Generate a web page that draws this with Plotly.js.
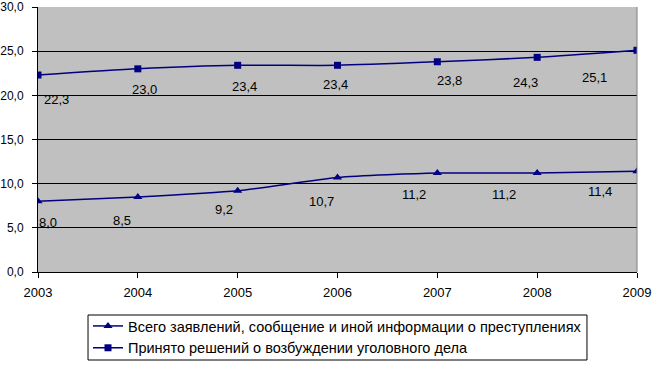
<!DOCTYPE html>
<html>
<head>
<meta charset="utf-8">
<script src="https://cdn.plot.ly/plotly-3.0.1.min.js"></script>
<style>html,body{margin:0;padding:0;background:#fff;}#chart{width:654px;height:366px;}</style>
</head>
<body>
<div id="chart"></div>
<script>
const years = ['2003','2004','2005','2006','2007','2008','2009'];
const seriesNames = [
  'Всего заявлений, сообщение и иной информации о преступлениях',
  'Принято решений о возбуждении уголовного дела'
];
const reports = [8.0, 8.5, 9.2, 10.7, 11.2, 11.2, 11.4];
const cases = [22.3, 23.0, 23.4, 23.4, 23.8, 24.3, 25.1];
const yTicks = [0, 5, 10, 15, 20, 25, 30];

// label offsets in pixels (style only)
const reportsLabelShift = [[10,-21],[-16,-24],[-14,-19],[-16,-24],[-23,-21],[-33,-21],[-37,-20]];
const casesLabelShift = [[18,-24],[7,-21],[7,-21],[-2,-19],[12,-19],[-12,-25],[-43,-27]];

const fmt = v => v.toFixed(1).replace('.', ',');
const FONT = '"Liberation Sans", Arial, sans-serif';
const navy = '#000080';

const traces = [
  {
    x: years, y: reports, name: seriesNames[0], type: 'scatter', mode: 'lines+markers',
    line: {color: navy, width: 1.5, shape: 'spline', smoothing: 0.6},
    marker: {symbol: 'triangle-up', size: 8, color: navy}
  },
  {
    x: years, y: cases, name: seriesNames[1], type: 'scatter', mode: 'lines+markers',
    line: {color: navy, width: 1.5, shape: 'spline', smoothing: 0.6},
    marker: {symbol: 'square', size: 7, color: navy}
  }
];

const annotations = [];
years.forEach((yr, i) => {
  annotations.push({x: i, y: reports[i], xref: 'x', yref: 'y', text: fmt(reports[i]), showarrow: false,
    xshift: reportsLabelShift[i][0], yshift: reportsLabelShift[i][1],
    font: {family: FONT, size: 13, color: '#000'}});
  annotations.push({x: i, y: cases[i], xref: 'x', yref: 'y', text: fmt(cases[i]), showarrow: false,
    xshift: casesLabelShift[i][0], yshift: casesLabelShift[i][1],
    font: {family: FONT, size: 13, color: '#000'}});
});

const layout = {
  width: 654, height: 366,
  margin: {l: 38, r: 17, t: 7, b: 94, autoexpand: false},
  paper_bgcolor: '#ffffff',
  plot_bgcolor: '#C0C0C0',
  separators: ', ',
  font: {family: FONT, size: 12, color: '#000'},
  showlegend: true,
  xaxis: {
    type: 'category', range: [0, 6], fixedrange: true,
    showgrid: false, zeroline: false,
    showline: true, linecolor: '#000', linewidth: 1,
    ticks: 'outside', ticklen: 5, tickcolor: '#000', tickwidth: 1,
    ticklabelstandoff: 3,
    tickfont: {family: FONT, size: 13, color: '#000'}
  },
  yaxis: {
    range: [0, 30], tickvals: yTicks, ticktext: yTicks.map(fmt),
    showgrid: true, gridcolor: '#000', gridwidth: 1, zeroline: false,
    showline: true, linecolor: '#000', linewidth: 1,
    ticks: 'outside', ticklen: 5, tickcolor: '#000', tickwidth: 1,
    ticklabelstandoff: 6,
    tickfont: {family: FONT, size: 12, color: '#000'}
  },
  shapes: [
    {type: 'line', xref: 'paper', yref: 'paper', x0: 1, x1: 1, y0: 0, y1: 1,
     line: {color: '#808080', width: 1}},
    {type: 'rect', xref: 'paper', yref: 'paper', x0: 0.0835, x1: 0.9165, y0: -0.1623, y1: -0.3321,
     fillcolor: '#ffffff', line: {color: '#000', width: 1}, layer: 'below'}
  ],
  legend: {
    xref: 'container', yref: 'container',
    x: 88 / 654, xanchor: 'left', y: 1 - 310 / 366, yanchor: 'top',
    bgcolor: 'rgba(0,0,0,0)', borderwidth: 0,
    font: {family: FONT, size: 14.5, color: '#000'},
    itemwidth: 30,
    tracegroupgap: 0
  },
  annotations: annotations
};

Plotly.newPlot('chart', traces, layout, {displayModeBar: false, staticPlot: true});
</script>
</body>
</html>
